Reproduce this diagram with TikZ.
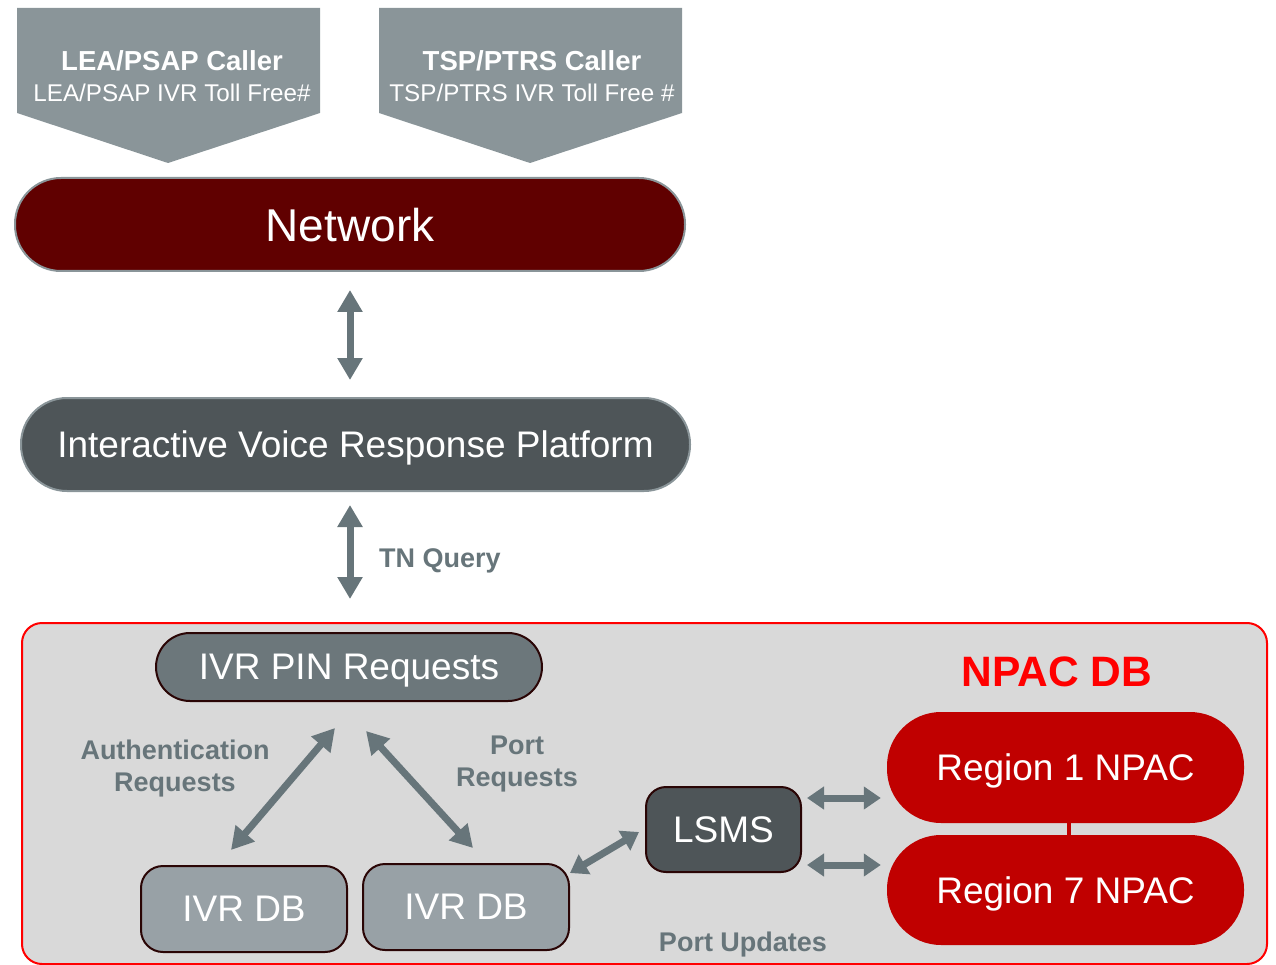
\documentclass[tikz,border=0pt]{standalone}
\usepackage{fontspec}
\setmainfont{Liberation Sans}
\usetikzlibrary{arrows.meta}
\definecolor{pentgray}{HTML}{8A9599}
\definecolor{netred}{HTML}{600000}
\definecolor{darkgray}{HTML}{4E5558}
\definecolor{arrgray}{HTML}{67757A}
\definecolor{pingray}{HTML}{6C777B}
\definecolor{dbgray}{HTML}{98A1A6}
\definecolor{boxgray}{HTML}{D9D9D9}
\definecolor{regred}{HTML}{C00000}
\definecolor{edgedark}{HTML}{2A0505}
\newcommand{\fs}[1]{\fontsize{#1}{#1}\selectfont}
\tikzset{
  box/.style={draw=edgedark, line width=2pt, inner sep=0pt, text=white, font=\fs{37}, text depth=0pt},
  pill/.style={draw=pentgray, line width=2pt, inner sep=0pt, text=white, text depth=0pt},
  dbl/.style={draw=arrgray, line width=7pt, {Triangle[width=24pt,length=22pt]}-{Triangle[width=24pt,length=22pt]}},
  dblh/.style={draw=arrgray, line width=7pt, {Triangle[width=22pt,length=17pt]}-{Triangle[width=22pt,length=17pt]}},
  lbl/.style={text=arrgray, font=\bfseries\fs{27}, align=center, inner sep=0pt},
}
\begin{document}
\begin{tikzpicture}[x=1pt,y=-1pt]
\useasboundingbox (0,0) rectangle (1276,965);
% callers
\fill[pentgray] (17,8) -- (320,8) -- (320,113) -- (168,163) -- (17,113) -- cycle;
\fill[pentgray] (379,8) -- (682,8) -- (682,113) -- (530,163) -- (379,113) -- cycle;
\node[text=white, font=\bfseries\fs{27.5}, inner sep=0pt, text depth=0pt] (c1) at (172,61) {LEA/PSAP Caller};
\node[text=white, font=\fs{24.2}, inner sep=0pt, text depth=0pt] (c1s) at (172,93) {LEA/PSAP IVR Toll Free\#};
\node[text=white, font=\bfseries\fs{27.5}, inner sep=0pt, text depth=0pt] (c2) at (532,61) {TSP/PTRS Caller};
\node[text=white, font=\fs{24.2}, inner sep=0pt, text depth=0pt] (c2s) at (532,93) {TSP/PTRS IVR Toll Free \#};
% network
\node[pill, fill=netred, minimum width=670pt, minimum height=93pt, rounded corners=46pt, font=\fs{46}] (net) at (350,224.5) {Network};
\node[pill, fill=darkgray, minimum width=669pt, minimum height=93pt, rounded corners=46pt, font=\fs{37}] (ivr) at (355.5,444.5) {Interactive Voice Response Platform};
\draw[dbl, shorten <=17pt, shorten >=18pt] (ivr.north -| 350,0) -- (net.south -| 350,0);
% NPAC box
\draw[draw=red, fill=boxgray, line width=2pt, rounded corners=20pt] (22,623) rectangle (1267,964);
\coordinate (tq) at (350,599);
\draw[dbl, shorten >=13pt] (tq) -- (ivr.south -| 350,0);
\node[lbl, anchor=west, text depth=0pt] (tnq) at (379,558) {TN Query};
% nodes in box
\node[box, fill=pingray, minimum width=386pt, minimum height=68pt, rounded corners=34pt] (pin) at (349,667) {IVR PIN Requests};
\node[box, fill=dbgray, minimum width=206pt, minimum height=86pt, rounded corners=22pt] (db1) at (244,909) {IVR DB};
\node[box, fill=dbgray, minimum width=206pt, minimum height=86pt, rounded corners=22pt] (db2) at (466,907) {IVR DB};
\node[box, fill=darkgray, minimum width=155pt, minimum height=85pt, rounded corners=20pt] (lsms) at (723.5,829.5) {LSMS};
\node[font=\bfseries\fs{42.5}, inner sep=0pt, text=red, text depth=0pt] (npac) at (1057,672) {NPAC DB};
\node[inner sep=0pt, fill=regred, minimum width=357pt, minimum height=111pt, rounded corners=54pt, text=white, font=\fs{37}, text depth=0pt] (r1) at (1065.5,767.5) {Region 1 NPAC};
\node[inner sep=0pt, fill=regred, minimum width=357pt, minimum height=110pt, rounded corners=54pt, text=white, font=\fs{37}, text depth=0pt] (r7) at (1065.5,890) {Region 7 NPAC};
\draw[regred, line width=4pt] (r1.south -| 1069,0) -- (r7.north -| 1069,0);
% connectors
\coordinate (a1) at (335,728);
\coordinate (a2) at (231,850);
\coordinate (b1) at (366,731);
\coordinate (b2) at (473,848);
\draw[dbl] (a2) -- (a1);
\draw[dbl] (b1) -- (b2);
\coordinate (d1) at (570,873);
\coordinate (d2) at (639,832);
\draw[dblh] (d1) -- (d2);
\draw[dblh, shorten <=5pt, shorten >=6pt] (lsms.east |- 0,798) -- (r1.west |- 0,798);
\draw[dblh, shorten <=5pt, shorten >=6pt] (lsms.east |- 0,865) -- (r7.west |- 0,865);
\node[lbl] (auth) at (175,769) {Authentication\\[5pt]Requests};
\node[lbl] (port) at (517,764) {Port\\[5pt]Requests};
\node[lbl, text depth=0pt] (pu) at (743,942) {Port Updates};
\end{tikzpicture}
\end{document}
